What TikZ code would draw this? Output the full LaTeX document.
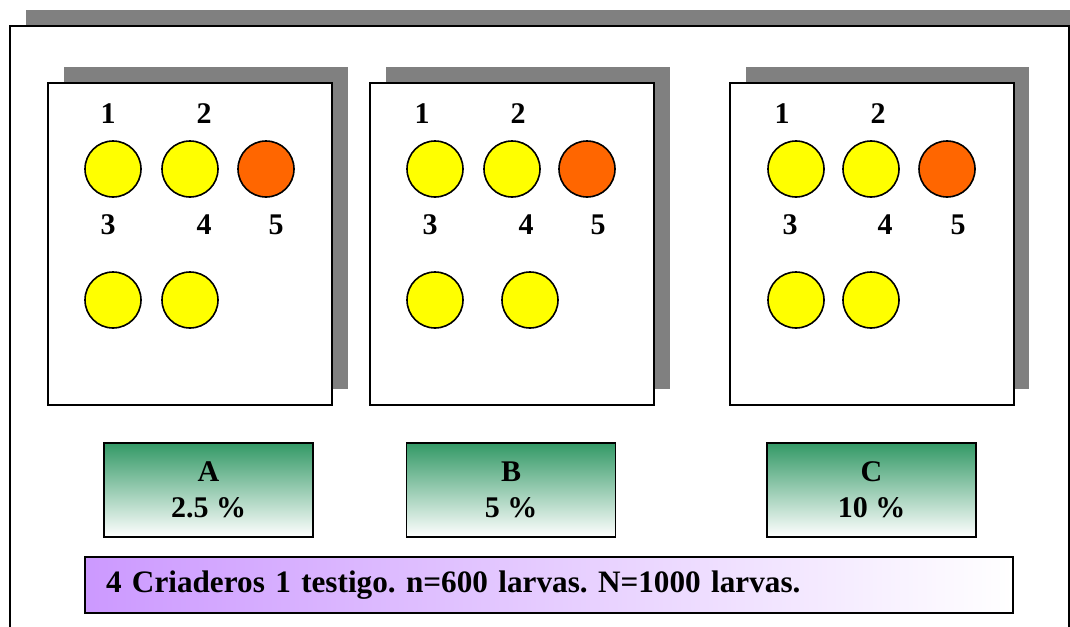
\documentclass[tikz,border=0pt]{standalone}
\usepackage{fontspec}
\setmainfont{Liberation Serif}
\definecolor{larva}{RGB}{255,255,0}
\definecolor{testigo}{RGB}{255,102,0}
\definecolor{verde}{RGB}{51,153,102}
\definecolor{lila}{RGB}{204,153,255}
\frenchspacing
\begin{document}
\begin{tikzpicture}
  [x=1pt,y=-1pt,every node/.style={font=\fontsize{30}{36}\selectfont\bfseries},
   panel/.style={draw,line width=2pt,fill=white,minimum width=284pt,minimum height=322pt,inner sep=0pt},
   cria/.style={circle,draw,line width=1.6pt,fill=larva,minimum size=56pt,inner sep=0pt},
   ctrl/.style={cria,fill=testigo},
   dosis/.style={draw,line width=1.5pt,top color=verde,bottom color=white,minimum width=209pt,minimum height=94pt,align=center,inner sep=0pt}]
  \useasboundingbox (0,0) rectangle (1070,626);
  % outer frame
  \fill[gray] (26,10) rectangle (1090,650);
  \draw[line width=2pt,fill=white] (10,26) rectangle (1069,650);

  \fill[gray] (64,67) rectangle (348,389);
  \fill[gray] (386,67) rectangle (670,389);
  \fill[gray] (746,67) rectangle (1029,389);
  \node[panel] (p1) at (190,244) {};
  \node[panel] (p2) at (512,244) {};
  \node[panel] (p3) at (871.5,244) {};

  % A
  \node (la1) at (108,114) {1};
  \node (la2) at (204,114) {2};
  \node (la3) at (108,225) {3};
  \node (la4) at (204,225) {4};
  \node (la5) at (276,225) {5};
  \node[cria] (a1) at (113,169) {};
  \node[cria] (a2) at (190,169) {};
  \node[ctrl] (a3) at (266,169) {};
  \node[cria] (a4) at (113,300) {};
  \node[cria] (a5) at (190,300) {};

  % B
  \node (lb1) at (422,114) {1};
  \node (lb2) at (518,114) {2};
  \node (lb3) at (430,225) {3};
  \node (lb4) at (526,225) {4};
  \node (lb5) at (598,225) {5};
  \node[cria] (b1) at (435,169) {};
  \node[cria] (b2) at (512,169) {};
  \node[ctrl] (b3) at (587,169) {};
  \node[cria] (b4) at (435,300) {};
  \node[cria] (b5) at (530,300) {};

  % C
  \node (lc1) at (782,114) {1};
  \node (lc2) at (878,114) {2};
  \node (lc3) at (790,225) {3};
  \node (lc4) at (885,225) {4};
  \node (lc5) at (958,225) {5};
  \node[cria] (c1) at (796,169) {};
  \node[cria] (c2) at (871,169) {};
  \node[ctrl] (c3) at (947,169) {};
  \node[cria] (c4) at (796,300) {};
  \node[cria] (c5) at (871,300) {};

  \node[dosis] (da) at (208.5,490) {A\\2.5 \%};
  \node[dosis] (db) at (511,490) {B\\5 \%};
  \node[dosis] (dc) at (871.5,490) {C\\10 \%};

  \node[draw,line width=1.5pt,left color=lila,right color=white,minimum height=56pt,
        inner xsep=21pt,inner ysep=0pt,text width=886pt,align=left,
        font=\fontsize{31.2}{36}\selectfont\bfseries] (nota) at (549,585)
    {4 Criaderos 1 testigo. n=600 larvas. N=1000 larvas.};
\end{tikzpicture}
\end{document}
